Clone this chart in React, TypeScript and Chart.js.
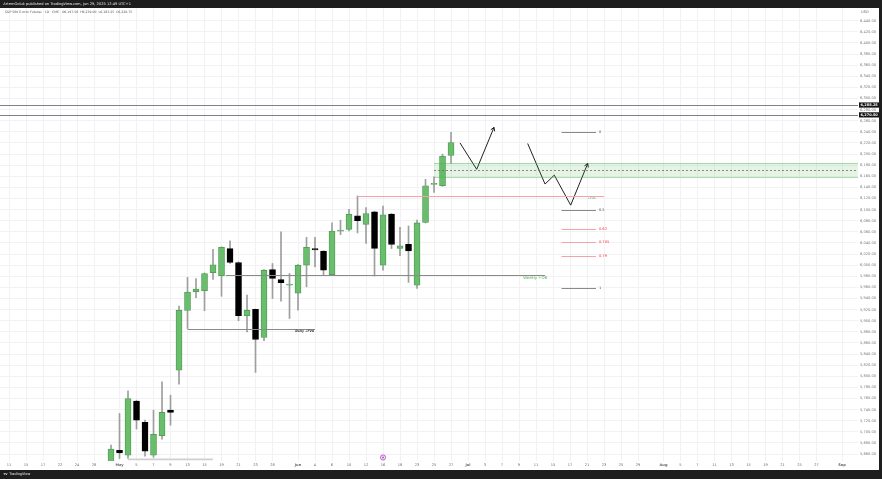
import React, { useEffect, useRef } from 'react';
import { Chart, registerables } from 'chart.js';

Chart.register(...registerables);

// ---------------- data ----------------
const dates = ['Apr 30','May 1','May 2','May 5','May 6','May 7','May 8','May 9','May 12','May 13','May 14','May 15','May 16','May 19','May 20','May 21','May 22','May 23','May 27','May 28','May 29','May 30','Jun 2','Jun 3','Jun 4','Jun 5','Jun 6','Jun 9','Jun 10','Jun 11','Jun 12','Jun 13','Jun 16','Jun 17','Jun 18','Jun 20','Jun 23','Jun 24','Jun 25','Jun 26','Jun 27'];
const opens = [5635, 5666.5, 5658, 5755.5, 5717, 5658, 5693, 5739, 5811, 5918.5, 5952, 5954, 5986.5, 5981, 6030, 6004.5, 5909, 5920.5, 5870, 5992, 5974, 5964, 5949.5, 6000, 6030, 6025.5, 5983, 6061, 6064.5, 6089, 6073.5, 6096, 6000, 6092, 6030, 6037.5, 5964, 6077, 6145.5, 6143, 6197.5];
const highs = [5676, 5733, 5774, 5757, 5721, 5739, 5790, 5766, 5926.5, 5978, 5976, 5986, 6028.5, 6033, 6044, 6006, 5946, 5921, 5992, 6003, 6060, 5985, 6001, 6050, 6050, 6026, 6076, 6081, 6100.5, 6124.5, 6103.5, 6097, 6106.5, 6093, 6068, 6070.5, 6081, 6154.5, 6159, 6200, 6239];
const lows = [5600, 5652, 5652, 5705, 5656, 5654, 5687, 5712, 5786, 5886, 5941.5, 5918, 5974.5, 5944, 6003, 5900, 5880, 5807, 5864, 5940, 5935, 5904, 5919, 5961, 5997, 5982, 5982, 6055, 6061.5, 6058, 6039, 5980.5, 5991, 6030, 6017, 5969, 5958, 6076, 6131, 6142, 6183.25];
const closes = [5669, 5662, 5760, 5721, 5665, 5695.5, 5735, 5735, 5919, 5951.5, 5957, 5985, 6000.5, 6032, 6005, 5909, 5919, 5866.5, 5991, 5976, 5968.5, 5965.5, 6000, 6032, 6027.5, 5991, 6061.5, 6063, 6091.5, 6080, 6093, 6030, 6090.5, 6037.5, 6035, 6025.5, 6076, 6143, 6147, 6196.5, 6220.75];

// x tick positions (bar index) and labels
const xTickIdx = [-12,-10,-8,-6,-4,-2,1,3,5,7,9,11,13,15,17,19,22,24,26,28,30,32,34,36,38,40,42,44,46,48,50,52,54,56,58,60,62,65,67,69,71,73,75,77,79,81,83,86];
const xTickLabels = ['11','15','17','22','24','28','May','5','7','9','13','15','19','21','23','28','Jun','4','6','10','12','16','18','23','25','27','Jul','3','7','9','11','15','17','21','23','25','29','Aug','5','7','11','13','15','19','21','25','27','Sep'];
const monthLabels = ['May','Jun','Jul','Aug','Sep'];

// price ticks
const yTicks: number[] = [5660,5680,5700,5720,5740,5760,5780,5800,5820,5840,5860,5880,5900,5920,5940,5960,5980,6000,6020,6040,6060,6080,6100,6120,6140,6160,6180,6200,6220,6240,6260,6280,6300,6320,6340,6360,6380,6400,6420,6440];

// annotations
const hLevels = [6288.25, 6270.5];
const zoneStart = 38;
const zoneTop = 6183.25;
const zoneBottom = 6159;
const zoneMid = 6171.25;
const fibHigh = 6239;
const fibLow = 5958;
const fibLevels = [0, 0.5, 0.62, 0.705, 0.79, 1];
const fibLabels = ['0', '0.5', '0.62', '0.705', '0.79', '1'];
const fibStart = 53;
const fibEnd = 57.05;
const fvgFrom = 29, fvgTo = 58, fvgPrice = 6124.5;
const weeklyFrom = 13.5, weeklyTo = 51.05, weeklyPrice = 5981.5;
const dailyFrom = 9, dailyTo = 24, dailyPrice = 5886;
const path1X = [41.06, 43.02, 45.06];
const path1Y = [6220, 6172.5, 6248];
const path2X = [49.02, 51.06, 52.15, 54.08, 56.08];
const path2Y = [6219, 6146, 6162, 6108, 6183];

// ---------------- layout constants ----------------
const X_MIN = -13.06, X_MAX = 87.88;
const Y_MIN = 5647.5, Y_MAX = 6462.9;

const fmt = (v: number) => v.toLocaleString('en-US', { minimumFractionDigits: 2, maximumFractionDigits: 2 });

function fitText(ctx: CanvasRenderingContext2D, text: string, x: number, y: number, width: number, color: string, style = '', align: CanvasTextAlign = 'left') {
  ctx.font = `${style} 10px "DejaVu Sans"`;
  const w = ctx.measureText(text).width;
  const size = (10 * width) / w;
  ctx.font = `${style} ${size}px "DejaVu Sans"`;
  ctx.fillStyle = color;
  ctx.textBaseline = 'middle';
  ctx.textAlign = align;
  ctx.fillText(text, x, y);
}

const overlay = {
  id: 'overlay',
  beforeDraw(chart: any) {
    const ctx = chart.ctx as CanvasRenderingContext2D;
    ctx.save();
    ctx.fillStyle = '#1e1e1e';
    ctx.fillRect(0, 0, 882, 479);
    ctx.fillStyle = '#ffffff';
    ctx.fillRect(0, 8, 879, 462);
    ctx.restore();
  },
  afterDatasetsDraw(chart: any) {
    const ctx = chart.ctx as CanvasRenderingContext2D;
    const ca = chart.chartArea;
    const xs = chart.scales.x;
    const ys = chart.scales.y;
    const X = (v: number) => xs.getPixelForValue(v);
    const Y = (v: number) => ys.getPixelForValue(v);
    const Yc = (v: number) => Math.round(Y(v)) + 0.5;
    const hline = (x1: number, x2: number, y: number, color: string, w = 1, dash: number[] = []) => {
      ctx.beginPath();
      ctx.setLineDash(dash);
      ctx.strokeStyle = color;
      ctx.lineWidth = w;
      ctx.moveTo(x1, y);
      ctx.lineTo(x2, y);
      ctx.stroke();
      ctx.setLineDash([]);
    };

    ctx.save();
    ctx.beginPath();
    ctx.rect(ca.left, ca.top, ca.right - ca.left, ca.bottom - ca.top);
    ctx.clip();

    // long horizontal levels
    hLevels.forEach((p) => hline(ca.left, ca.right, Yc(p), '#6f737c', 0.9));

    // green zone
    const zx = X(zoneStart);
    ctx.fillStyle = 'rgba(76,175,80,0.14)';
    ctx.fillRect(zx, Y(zoneTop), ca.right - zx, Y(zoneBottom) - Y(zoneTop));
    hline(zx, ca.right, Yc(zoneTop), 'rgba(76,175,80,0.45)');
    hline(zx, ca.right, Yc(zoneBottom), 'rgba(76,175,80,0.45)');
    hline(zx, ca.right, Yc(zoneMid), '#6b6b6b', 0.8, [2, 2]);

    // +FVG line
    hline(X(fvgFrom), X(fvgTo), Yc(fvgPrice), '#f5a3a9');
    fitText(ctx, '+FVG', X(56.56), Y(fvgPrice) + 1.8, 8, '#4caf50', '', 'center');

    // weekly +OB
    hline(X(weeklyFrom), X(weeklyTo), Yc(weeklyPrice), '#8a8a8a');
    fitText(ctx, 'Weekly +OB', X(49.9), Y(weeklyPrice) + 3, 24, '#4caf50', '', 'center');

    // daily +FVG
    hline(X(dailyFrom), X(dailyTo), Yc(dailyPrice), '#8a8a8a');
    fitText(ctx, 'Daily +FVG', X(22.8), Y(dailyPrice) + 2.6, 19, '#333333', 'italic bold', 'center');

    // bottom grey band
    hline(X(2), X(12), Y(5650.5), '#cfcfcf', 1.6);

    // fib levels
    fibLevels.forEach((lv, i) => {
      const p = fibHigh - lv * (fibHigh - fibLow);
      const red = lv > 0.5 && lv < 1;
      hline(X(fibStart), X(fibEnd), Yc(p), red ? '#f5a3a9' : '#8a8a8a');
      ctx.font = '3.6px "DejaVu Sans"';
      ctx.fillStyle = red ? '#f23645' : '#555555';
      ctx.textAlign = 'left';
      ctx.textBaseline = 'middle';
      ctx.fillText(fibLabels[i], X(57.4), Y(p));
    });

    // arrowheads
    const head = (px: number[], py: number[]) => {
      const n = px.length;
      const x2 = X(px[n - 1]), y2 = Y(py[n - 1]);
      const x1 = X(px[n - 2]), y1 = Y(py[n - 2]);
      const a = Math.atan2(y2 - y1, x2 - x1);
      const L = 4;
      ctx.beginPath();
      ctx.strokeStyle = '#222';
      ctx.lineWidth = 1;
      ctx.moveTo(x2 + L * Math.cos(a + 2.6), y2 + L * Math.sin(a + 2.6));
      ctx.lineTo(x2, y2);
      ctx.lineTo(x2 + L * Math.cos(a - 2.6), y2 + L * Math.sin(a - 2.6));
      ctx.stroke();
    };
    head(path1X, path1Y);
    head(path2X, path2Y);

    // event marker
    ctx.beginPath();
    ctx.arc(X(32), 457.5, 2.6, 0, Math.PI * 2);
    ctx.fillStyle = '#f3e5f5';
    ctx.fill();
    ctx.strokeStyle = '#ab47bc';
    ctx.lineWidth = 0.8;
    ctx.stroke();
    ctx.beginPath();
    ctx.arc(X(32), 457.5, 0.9, 0, Math.PI * 2);
    ctx.fillStyle = '#ab47bc';
    ctx.fill();

    ctx.restore();
  },
  afterDraw(chart: any) {
    const ctx = chart.ctx as CanvasRenderingContext2D;
    const ys = chart.scales.y;
    ctx.save();
    // price boxes for horizontal levels
    hLevels.forEach((p) => {
      const y = ys.getPixelForValue(p);
      ctx.fillStyle = '#131313';
      ctx.fillRect(859, y - 2.6, 20, 5.2);
      ctx.font = 'bold 3.5px "DejaVu Sans"';
      ctx.fillStyle = '#ffffff';
      ctx.textAlign = 'left';
      ctx.textBaseline = 'middle';
      ctx.fillText(fmt(p), 860.5, y);
    });
    // currency
    ctx.font = '3.6px "DejaVu Sans"';
    ctx.fillStyle = '#6a6a6a';
    ctx.textAlign = 'left';
    ctx.textBaseline = 'middle';
    ctx.fillText('USD', 861, 12.3);

    // header (dark band)
    fitText(ctx, 'ArtemGoluk published on TradingView.com, Jun 29, 2025 12:49 UTC+1', 3.3, 3.9, 128, '#e6e6e6');
    // symbol line
    const n = opens.length - 1;
    const title = `S&P 500 E-mini Futures · 1D · CME   O${fmt(opens[n])}  H${fmt(highs[n])}  L${fmt(lows[n])}  C${fmt(closes[n])}`;
    fitText(ctx, title, 5, 12.4, 128, '#555555');
    // footer
    fitText(ctx, 'TV', 3.3, 474.5, 4.2, '#e6e6e6', 'bold');
    fitText(ctx, 'TradingView', 9.3, 474.5, 21, '#e6e6e6');
    ctx.restore();
  },
};

export default function App() {
  const ref = useRef<HTMLCanvasElement>(null);
  useEffect(() => {
    const up = opens.map((o, i) => closes[i] >= o);
    const chart = new Chart(ref.current as HTMLCanvasElement, {
      type: 'bar',
      data: {
        labels: dates,
        datasets: [
          {
            type: 'line',
            label: 'path1',
            data: path1X.map((x, i) => ({ x, y: path1Y[i] })),
            borderColor: '#222222',
            borderWidth: 1,
            pointRadius: 0,
            tension: 0,
            fill: false,
            order: -2,
          } as any,
          {
            type: 'line',
            label: 'path2',
            data: path2X.map((x, i) => ({ x, y: path2Y[i] })),
            borderColor: '#222222',
            borderWidth: 1,
            pointRadius: 0,
            tension: 0,
            fill: false,
            order: -1,
          } as any,
          {
            type: 'bar',
            label: 'body',
            data: opens.map((o, i) => ({ x: i, y: [o, closes[i]] })),
            backgroundColor: up.map((u) => (u ? '#69bd6c' : '#000000')),
            borderColor: up.map((u) => (u ? '#4b9a4e' : '#000000')),
            borderWidth: 0.8,
            borderSkipped: false,
            barThickness: 6,
            minBarLength: 1,
            grouped: false,
            order: 0,
          } as any,
          {
            type: 'bar',
            label: 'wick',
            data: lows.map((l, i) => ({ x: i, y: [l, highs[i]] })),
            backgroundColor: '#9e9e9e',
            borderWidth: 0,
            barThickness: 1,
            grouped: false,
            order: 1,
          } as any,
        ],
      },
      options: {
        animation: false,
        responsive: false,
        devicePixelRatio: 1,
        events: [],
        layout: { padding: { top: 8, bottom: 9, left: 0, right: 3 } },
        plugins: { legend: { display: false }, tooltip: { enabled: false } },
        scales: {
          x: {
            type: 'linear',
            min: X_MIN,
            max: X_MAX,
            offset: false,
            border: { display: false },
            grid: { color: '#f2f2f4', drawTicks: false, offset: false, lineWidth: 1 },
            afterBuildTicks: (s: any) => {
              s.ticks = xTickIdx.map((v) => ({ value: v }));
            },
            afterFit: (s: any) => {
              s.height = 9;
            },
            ticks: {
              autoSkip: false,
              maxRotation: 0,
              minRotation: 0,
              padding: 2,
              color: '#6a6a6a',
              font: (c: any) => {
                const i = xTickIdx.indexOf(c.tick ? c.tick.value : NaN);
                const lab = i >= 0 ? xTickLabels[i] : '';
                return { family: 'DejaVu Sans', size: 3.6, weight: monthLabels.includes(lab) ? 'bold' : 'normal' };
              },
              callback: (v: any) => {
                const i = xTickIdx.indexOf(Number(v));
                return i >= 0 ? xTickLabels[i] : '';
              },
            },
          } as any,
          y: {
            type: 'linear',
            position: 'right',
            min: Y_MIN,
            max: Y_MAX,
            border: { display: false },
            grid: { color: '#f2f2f4', drawTicks: false, lineWidth: 1 },
            afterBuildTicks: (s: any) => {
              s.ticks = yTicks.map((v) => ({ value: v }));
            },
            afterFit: (s: any) => {
              s.width = 21;
            },
            ticks: {
              autoSkip: false,
              padding: 2,
              color: '#7a7a7a',
              font: { family: 'DejaVu Sans', size: 3.6 },
              callback: (v: any) => fmt(Number(v)),
            },
          } as any,
        },
      },
      plugins: [overlay],
    });
    return () => chart.destroy();
  }, []);
  return (
    <div style={{ position: 'fixed', left: 0, top: 0, width: 882, height: 479, background: '#1e1e1e' }}>
      <canvas ref={ref} width={882} height={479} style={{ display: 'block', width: 882, height: 479 }} />
    </div>
  );
}
